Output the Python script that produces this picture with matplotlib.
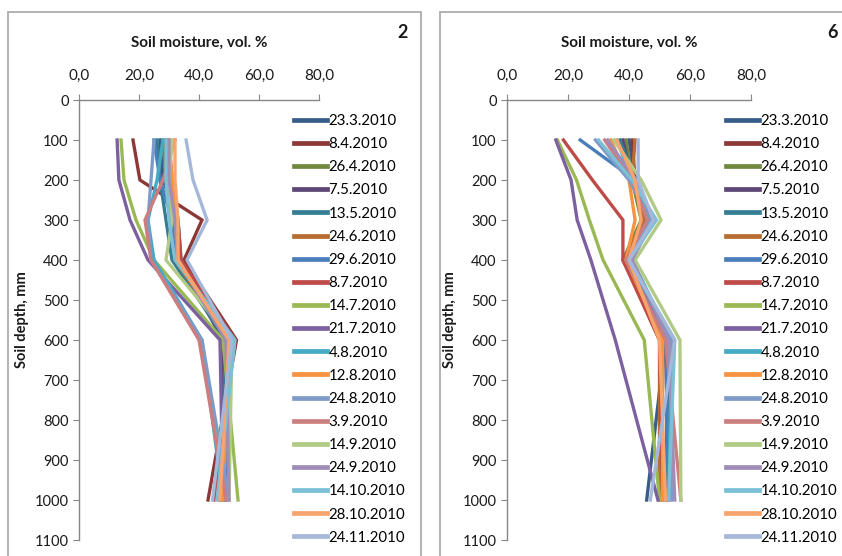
import numpy as np
import matplotlib
matplotlib.use("Agg")
import matplotlib.pyplot as plt
from matplotlib.patches import Rectangle

plt.rcParams['font.family'] = ['Lato', 'DejaVu Sans']

depths = [100, 200, 300, 400, 600, 1000]
dates = ['23.3.2010', '8.4.2010', '26.4.2010', '7.5.2010', '13.5.2010',
         '24.6.2010', '29.6.2010', '8.7.2010', '14.7.2010', '21.7.2010',
         '4.8.2010', '12.8.2010', '24.8.2010', '3.9.2010', '14.9.2010',
         '24.9.2010', '14.10.2010', '28.10.2010', '24.11.2010']
colors = ['#385D8A', '#8C3836', '#71893F', '#5C4776', '#357D91', '#B66D31',
          '#4A7EBB', '#BE4B48', '#98B954', '#7D60A0', '#46AAC5', '#F69240',
          '#7E9BC8', '#CB7E7D', '#B1CB86', '#9F8DB7', '#7BC0D5', '#F8A46F',
          '#A5B8D9']

# site 2 soil moisture (vol. %) per date, at the depths above
site2 = [
    [27, 28, 33, 34, 50, 47],
    [18, 20.3, 41, 35, 52.5, 43],
    [28, 29, 31, 32, 49, 49],
    [29, 30, 32, 33, 48, 48],
    [26, 27, 29, 31, 49, 47],
    [29, 30, 31, 32, 50, 48],
    [25, 27, 31, 33, 51, 49],
    [30, 31, 33, 34, 52, 45],
    [14, 15, 19, 25, 48, 53],
    [12.7, 13.3, 17, 23, 47, 48],
    [28, 26, 23, 25, 41, 48],
    [30, 31, 32, 33, 50, 48],
    [25, 24, 23, 24, 41, 50],
    [32, 28, 22, 24, 40, 49],
    [31, 30, 31, 29, 51, 50],
    [30, 30, 32, 33, 49, 50],
    [29, 29, 30, 32, 52, 46],
    [32, 32, 33, 33, 50, 47],
    [35.7, 38, 42.7, 36, 51, 44.5],
]

# site 6
site6 = [
    [40, 42, 46, 40, 52, 45.8],
    [41, 42, 45, 39, 52, 53],
    [39, 41, 44, 38, 53, 52],
    [38, 41, 47, 40, 54, 52],
    [37, 42, 46, 39, 53, 52],
    [42, 41, 45, 38, 50, 50],
    [24, 42, 48, 40, 52, 53],
    [18.5, 28, 38, 38, 50, 51],
    [16.5, 22.8, 27, 31.5, 45, 50],
    [16, 21, 23, 27.5, 35.5, 49.5],
    [36, 41, 47, 41, 54, 53],
    [34, 40, 42, 39, 51, 51],
    [29, 40, 47, 40, 54, 54],
    [32, 41, 46, 39, 52, 57],
    [35, 44, 50.5, 42, 56.7, 57],
    [33, 42, 48, 41, 53, 55],
    [30, 41, 49, 40, 55, 53],
    [36, 42, 44, 40, 50, 52],
    [43, 43, 48, 40, 55, 47],
]

W, H = 842, 556
fig = plt.figure(figsize=(W / 100, H / 100), dpi=100)

grey = '#868686'


def panel(x0, ax_left, ax_right, data, tag, frame_x, frame_w):
    fig.patches.append(Rectangle((frame_x / W, -0.1), frame_w / W, (H - 12) / H + 0.1,
                                 transform=fig.transFigure, fill=False,
                                 edgecolor='#A6A6A6', lw=1.2))
    ax = fig.add_axes([ax_left / W, 1 - 540 / H, (ax_right - ax_left) / W, 440 / H])
    for vals, c, lab in zip(data, colors, dates):
        ax.plot(vals, depths, color=c, lw=2.4, label=lab, solid_joinstyle='miter')
    ax.set_xlim(0, 80)
    ax.set_ylim(1100, 0)
    ax.set_xticks([0, 20, 40, 60, 80])
    ax.set_xticklabels(['0,0', '20,0', '40,0', '60,0', '80,0'])
    ax.set_yticks(range(0, 1101, 100))
    ax.xaxis.tick_top()
    ax.xaxis.set_label_position('top')
    for s in ['right', 'bottom']:
        ax.spines[s].set_visible(False)
    for s in ['left', 'top']:
        ax.spines[s].set_color(grey)
        ax.spines[s].set_linewidth(1.0)
    ax.tick_params(colors=grey, labelcolor='#1a1a1a', labelsize=10.5, length=4,
                   direction='out')
    ax.tick_params(axis='x', labelsize=11, pad=8)
    ax.set_xlabel('Soil moisture, vol. %', fontsize=11, fontweight='bold',
                  labelpad=16, color='#1a1a1a')
    ax.set_ylabel('Soil depth, mm', fontsize=10.5, fontweight='bold',
                  labelpad=4, color='#1a1a1a')
    fig.text(x0 / W, 1 - 32 / H, tag, fontsize=13, fontweight='bold',
             ha='center', va='center', color='#1a1a1a')
    leg = ax.legend(loc='upper left', bbox_to_anchor=((ax_right - 25) / W, 1 - 114 / H),
                    bbox_transform=fig.transFigure, frameon=False, fontsize=10.8,
                    handlelength=2.2, handletextpad=0.1, labelspacing=0.61,
                    borderpad=0, borderaxespad=0)
    for ln in leg.get_lines():
        ln.set_linewidth(3.4)
    return ax


panel(403, 79, 319, site2, '2', 8, 413)
panel(833, 507, 751, site6, '6', 440, 420)

fig.savefig('out.png', dpi=100)
